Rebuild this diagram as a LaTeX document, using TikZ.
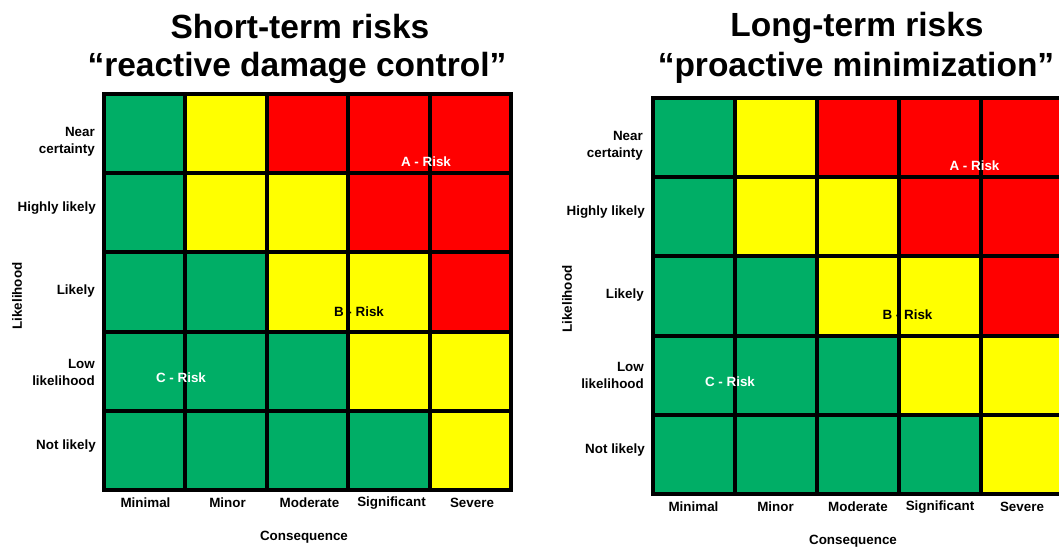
\documentclass[tikz,border=0pt]{standalone}
\usepackage{fontspec}
\setmainfont{Liberation Sans}
\definecolor{lowrisk}{RGB}{0,174,102}
\definecolor{midrisk}{RGB}{255,255,0}
\definecolor{highrisk}{RGB}{255,0,0}

\begin{document}
\begin{tikzpicture}[x=1pt, y=-1pt,
    gridline/.style={line width=4pt, line cap=rect},
    small/.style={font=\fontsize{13.4}{17}\selectfont\bfseries},
    rowlab/.style={small, anchor=east, align=right, inner xsep=0pt},
    title/.style={font=\fontsize{33.5}{40}\selectfont\bfseries}]
  \useasboundingbox (0,0) rectangle (1059,548);

  % both matrices: left corner x, top y, cell width
  \foreach \gx/\gy/\gw in {104/94/81.4, 653/98/82} {
    \foreach \clr [count=\n from 0] in {lowrisk,midrisk,highrisk,highrisk,highrisk,
        lowrisk,midrisk,midrisk,highrisk,highrisk,
        lowrisk,lowrisk,midrisk,midrisk,highrisk,
        lowrisk,lowrisk,lowrisk,midrisk,midrisk,
        lowrisk,lowrisk,lowrisk,lowrisk,midrisk} {
      \pgfmathtruncatemacro\ri{\n/5}
      \pgfmathtruncatemacro\ci{mod(\n,5)}
      \fill[\clr] (\gx+\ci*\gw, \gy+\ri*79.2) rectangle ++(\gw, 79.2);
    }
    \foreach \i in {0,...,5} {
      \draw[gridline] (\gx+\i*\gw, \gy) -- (\gx+\i*\gw, \gy+396);
      \draw[gridline] (\gx, \gy+\i*79.2) -- (\gx+5*\gw, \gy+\i*79.2);
    }
  }

  % left: short-term
  \node[title] (shortA) at (300, 27) {Short-term risks};
  \node[title] (shortB) at (297, 68) {“reactive damage control”};
  \node[rowlab] (nearL) at (95, 142) {Near\\certainty};
  \node[rowlab] (highL) at (96, 208) {Highly likely};
  \node[rowlab] (likelyL) at (95, 291) {Likely};
  \node[rowlab] (lowL) at (95, 372) {Low\\likelihood};
  \node[rowlab] (notL) at (96, 446) {Not likely};
  \node[small, rotate=90] (axisyL) at (17, 296) {Likelihood};
  \node[small] (minimalL) at (145.5, 503) {Minimal};
  \node[small] (minorL) at (227.5, 503) {Minor};
  \node[small] (moderateL) at (309.5, 503) {Moderate};
  \node[small] (significantL) at (391.5, 503) {Significant};
  \node[small] (severeL) at (472, 503) {Severe};
  \node[small] (axisxL) at (304, 537) {Consequence};
  \node[small, white] (riskaL) at (426, 162) {A - Risk};
  \node[small] (riskbL) at (359, 312) {B - Risk};
  \node[small, white] (riskcL) at (181, 378) {C - Risk};

  % right: long-term
  \node[title] (longA) at (857, 28) {Long-term risks};
  \node[title] (longB) at (856, 68) {“proactive minimization”};
  \node[rowlab] (nearR) at (643, 145.5) {Near\\certainty};
  \node[rowlab] (highR) at (645, 212) {Highly likely};
  \node[rowlab] (likelyR) at (644, 295) {Likely};
  \node[rowlab] (lowR) at (644, 375.5) {Low\\likelihood};
  \node[rowlab] (notR) at (645, 450) {Not likely};
  \node[small, rotate=90] (axisyR) at (567, 299) {Likelihood};
  \node[small] (minimalR) at (693.5, 507) {Minimal};
  \node[small] (minorR) at (775.5, 507) {Minor};
  \node[small] (moderateR) at (858, 507) {Moderate};
  \node[small] (significantR) at (940, 507) {Significant};
  \node[small] (severeR) at (1022, 507) {Severe};
  \node[small] (axisxR) at (853, 541) {Consequence};
  \node[small, white] (riskaR) at (974.5, 166) {A - Risk};
  \node[small] (riskbR) at (907.5, 315) {B - Risk};
  \node[small, white] (riskcR) at (730, 382) {C - Risk};
\end{tikzpicture}
\end{document}
